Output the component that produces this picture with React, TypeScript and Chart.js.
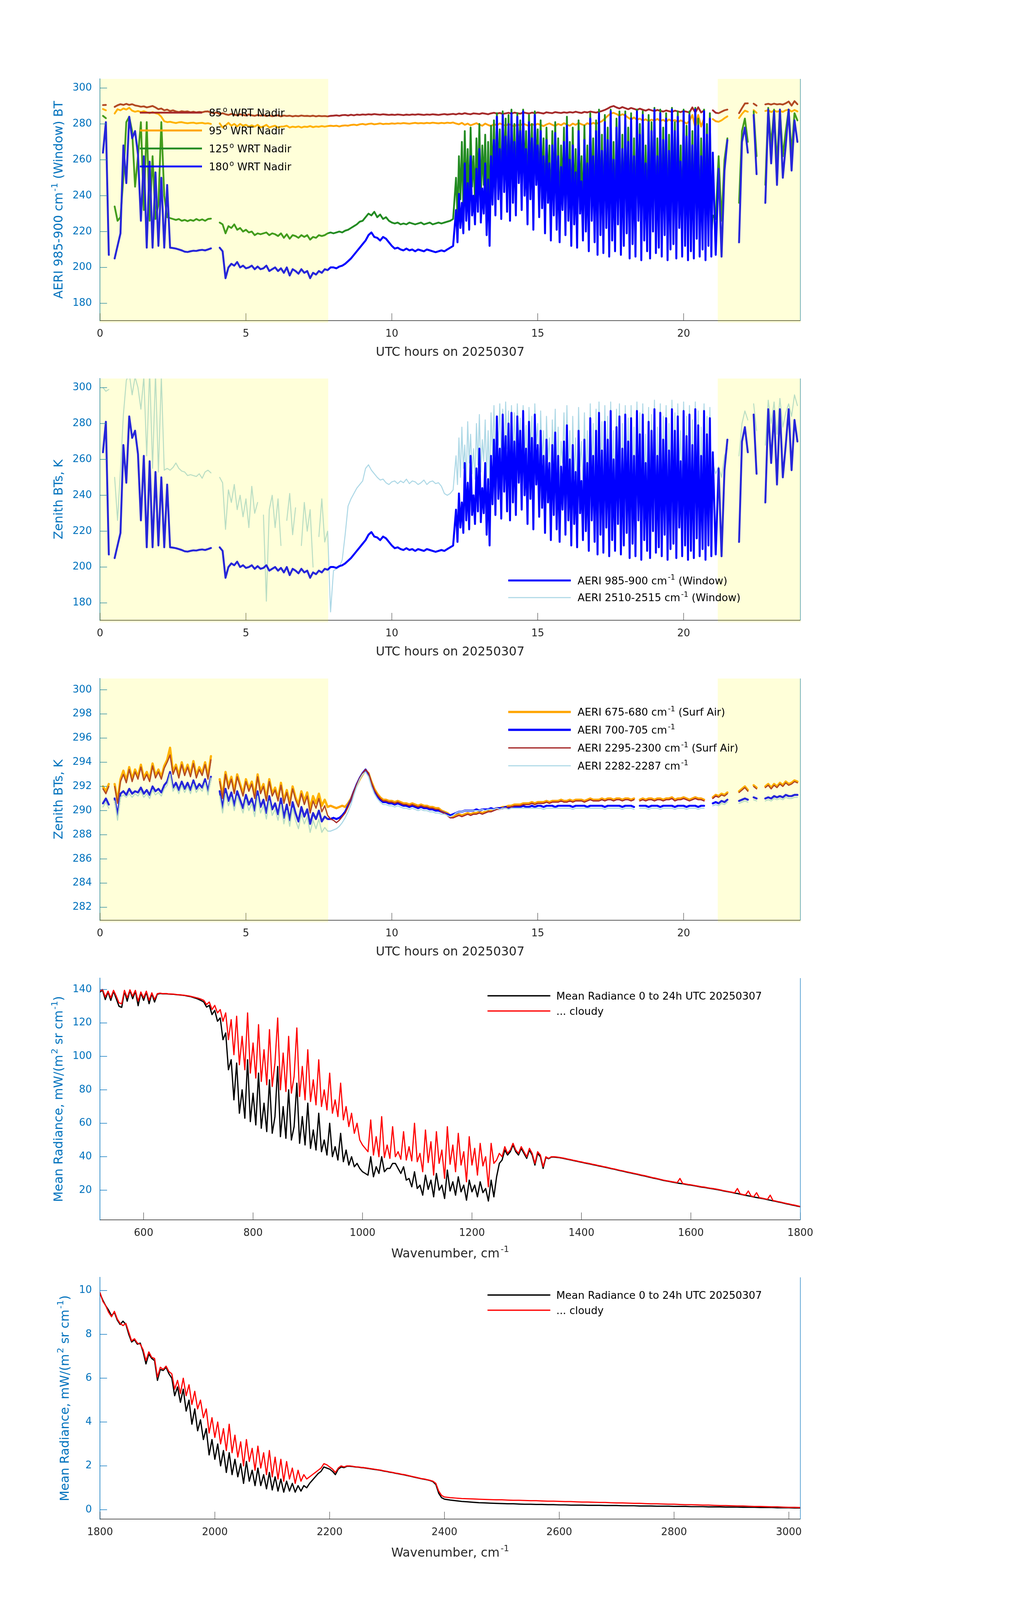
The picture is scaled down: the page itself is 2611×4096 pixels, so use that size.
import React, { useEffect, useRef } from 'react';
import { Chart, registerables } from 'chart.js';

Chart.register(...registerables);

// ---------------- DATA ----------------
// Time series: hourly axis (UTC hours on 20250307)
const HOUR_START = 0;
const HOUR_STEP = 0.1;
// dense cloudy segment for the window channels
const CLOUD_START = 12.2;
const CLOUD_STEP = 0.05;
const LATE_START = 21.1;

const X_TICKS_HOURS = [0, 5, 10, 15, 20];
const Y_TICKS_BT = [180, 200, 220, 240, 260, 280, 300];
const Y_TICKS_SFC = [282, 284, 286, 288, 290, 292, 294, 296, 298, 300];
const X_TICKS_WN_LW = [600, 800, 1000, 1200, 1400, 1600, 1800];
const Y_TICKS_RAD_LW = [20, 40, 60, 80, 100, 120, 140];
const X_TICKS_WN_SW = [1800, 2000, 2200, 2400, 2600, 2800, 3000];
const Y_TICKS_RAD_SW = [0, 2, 4, 6, 8, 10];

const NADIR_85 = [
  null, 290.5, 290.6, null, null, 289.5, 290.4, 291, 290.6, 291.2,
  290.6, 291, 290.3, 290, 289.6, 289.8, 289.2, 289.6, 290, 289.2,
  288.2, 288.6, 287.6, 288, 287.2, 287.6, 287, 286.6, 287.1, 286.8,
  287, 286.5, 286.8, 286.4, 286.7, 286.5, 286.9, 287, 286.3, 286,
  286.4, 285.5, 286, 285.4, 285, 285.6, 285.2, 284.8, 285.4, 285,
  284.7, 285.3, 284.8, 284.5, 285, 284.6, 284.9, 284.4, 284.8, 284.3,
  284.6, 284.8, 284.2, 284.7, 284.4, 284.6, 284.2, 284.5, 284.3, 284.7,
  284.4, 284.5, 284.3, 284.6, 284.2, 284.5, 284.3, 284.4, 284.2, 284.5,
  284.6, 284.8, 284.5, 284.9, 285, 284.7, 285.1, 284.8, 285.2, 285,
  285.3, 285.1, 285.4, 285.2, 285.5, 285.3, 285.1, 285.4, 285.2, 285,
  285.2, 285, 285.3, 285.1, 284.9, 285.2, 285, 285.3, 285.1, 285.4,
  285.2, 285, 285.3, 285.1, 285.4, 285.2, 285, 285.3, 285.5, 285.2,
  285.4, 285.6, 285.3, 285.8, 285.5, 286, 285.6, 285.4, 285.9, 285.7,
  285.5, 286, 285.7, 285.4, 285.9, 286.2, 285.8, 286.1, 285.6, 285.9,
  286.2, 285.8, 286.3, 286, 285.7, 286.4, 286.1, 285.8, 286.3, 286,
  286.4, 286.1, 285.8, 286.5, 286.2, 286, 286.6, 286.3, 286.1, 286.5,
  286.2, 286.6, 286.3, 286.8, 286.4, 286.1, 286.7, 286.4, 286.9, 286.6,
  286.3, 286.8, 287.2, 287.8, 288.6, 289.5, 290, 289.2, 288.6, 289.4,
  288.8, 288.2, 288.9, 288.4, 287.8, 288.5, 287.9, 287.4, 288.1, 287.6,
  287.1, 287.8, 287.3, 286.9, 287.5, 287.1, 286.7, 287.4, 287, 286.6,
  287.2, 286.8, 286.4, 289.2, 286.3, 289.3, 286.4, 287.5, null, null,
  287.6, 286.2, 286, 286.8, 287.6, 288, null, null, null, 286,
  288.8, 291.4, 291.5, null, 291.3, 290.2, null, null, 290.9, 291.2,
  290.8, 291.3, 290.9, 291.1, 290.8, 291.5, 292.5, 290.2, 292.7, 291,
];

const NADIR_95 = [
  null, 288.3, 287.6, null, null, 285.8, 288.2, 287.6, 288.6, 288,
  289, 287.4, 286.8, 287.2, 286.6, 287.1, 286.5, 286, 286.6, 286,
  285.6, 284, 281.5, 281, 281.2, 280.8, 280.5, 280.9, 281, 280.6,
  280.4, 280.6, 280.7, 280.3, 280.5, 280.6, 280.2, 280.4, 280, null,
  null, 280.3, 278, 279.2, 280.6, 279, 280, 278.6, 280, 279,
  279.5, 278.5, 279.2, 278.5, 279.5, 278.1, 278.6, 279.5, 278, 278.6,
  279, 278, 278.5, 278.6, 279, 278, 278.5, 278.2, 278.6, 278,
  278.5, 278.3, 278.8, 278.2, 278.6, 278.4, 278.8, 278.5, 278.8, 279,
  278.8, 279, 278.6, 279, 279.2, 279, 279.4, 279.6, 279.3, 279.8,
  280, 279.6, 280, 280.2, 279.8, 280, 280.3, 279.9, 280.1, 280,
  280.3, 280.1, 280.4, 280.2, 280.5, 280.3, 280.1, 280.4, 280.6, 280.3,
  280.5, 280.3, 280.6, 280.4, 280.7, 280.5, 280.3, 280.6, 280.4, 280.7,
  280.5, 280.8, 280.2, 279.8, 280.6, 279.5, 280.2, 279.2, 279.8, 280.4,
  279.6, 279, 280.2, 279.4, 278.8, 279.9, 279.2, 280.3, 279.6, 279,
  280, 279.3, 278.7, 279.8, 279.1, 280.2, 279.5, 278.9, 279.9, 279.3,
  280.1, 279.4, 278.8, 279.7, 280.3, 279.5, 278.9, 280, 279.3, 280.4,
  279.6, 279, 280.2, 279.5, 280.5, 279.8, 279.2, 280.4, 279.7, 280.6,
  280, 280.8, 281.5, 283, 284.5, 285.8, 286.2, 285.5, 284.6, 285.4,
  284.8, 283.5, 282.5, 283.6, 282.3, 283, 281.8, 282.6, 281.5, 282.4,
  281.7, 282.8, 281.6, 282.3, 281.2, 282.5, 281.5, 282.2, 281, 282,
  281.3, 280.2, 281.6, 285, 278, 285, 278.5, 283, null, null,
  282.7, 281.5, 281.2, 282, 283.2, 284.2, null, null, null, 283.3,
  285.6, 287.4, 286.8, null, 287.7, 286.2, null, null, 287.2, 287.7,
  286.6, 287.5, 286.8, 287.3, 286.7, 287.6, 288, 286.9, 287.8, 287,
];

// 125 deg: 0-12.1 h every 0.1 h, 12.2-21.0 h every 0.05 h, 21.1-23.9 h every 0.1 h
const NADIR_125_A = [
  null, 284.5, 283.2, null, null, 234, 226, 228, 250, 281,
  284, 276, 245, 262, 281, 232, 281, 226, 262, 227,
  235, 281, 240, 228, 227.5, 227, 226.5, 227, 226, 226.5,
  225.8, 226.5, 226, 227, 226.2, 226.8, 226, 227, 227.2, null,
  null, 225, 224, 219, 223, 222, 224, 221, 222, 220,
  221, 219.5, 220, 218, 219, 218.5, 219, 219.5, 218, 219,
  218.5, 217.5, 219, 216.5, 218.5, 216, 218, 217.5, 216.5, 218,
  217, 218, 215.5, 217, 216.5, 218, 217.5, 218, 219, 219.5,
  219, 219.5, 220, 219.5, 220.5, 221, 222, 223, 224, 225.5,
  226, 228, 230, 229, 231, 228, 229.5, 227, 228, 226,
  225, 224.5, 225, 224, 224.5, 224, 225, 224.5, 224, 224.5,
  225, 224, 224.5, 225, 224, 224.5, 225, 224.5, 225, 225.5,
  226, 227,
];
const NADIR_125_B = [
  250, 228, 262, 238, 270, 232, 276, 240, 266, 234, 278, 245, 262, 236, 272, 244, 280, 238, 268, 246,
  274, 232, 270, 228, 279, 246, 282, 240, 286, 250, 277, 238, 287, 252, 283, 242, 285, 236, 288, 248,
  280, 240, 286, 256, 282, 242, 288, 250, 276, 234, 285, 248, 280, 232, 287, 254, 277, 238, 282, 244,
  272, 230, 278, 246, 268, 226, 276, 240, 281, 232, 272, 226, 268, 242, 278, 230, 284, 236, 270, 224,
  278, 234, 266, 222, 282, 240, 262, 226, 279, 230, 268, 221, 286, 236, 272, 225, 282, 219, 288, 228,
  274, 220, 285, 232, 278, 218, 288, 226, 270, 220, 283, 234, 287, 219, 274, 223, 287, 229, 278, 217,
  286, 224, 272, 218, 288, 236, 280, 216, 287, 226, 268, 220, 285, 217, 281, 231, 289, 219, 272, 222,
  288, 218, 278, 229, 286, 216, 274, 221, 289, 224, 281, 217, 287, 233, 268, 218, 288, 223, 279, 216,
  287, 220, 276, 217, 289, 227, 283, 218, 272, 221, 288, 216, 280, 223, 286, 218,
  229,
];
const NADIR_125_C = [
  227, 262, 226, 260, 272, null, null, null, 236, 276, 283, 270, null, 287, 262,
  null, null, 246, 289, 268, 288, 258, 288, 262, 276, 288, 264, 286, 282,
];

// 180 deg (zenith) window BT, 985-900 cm-1, same record in panels 1 and 2
const WIN_985_900_A = [
  null, 264, 281, 207, null, 205, 212, 219, 268, 247,
  284, 272, 276, 263, 226, 262, 211, 259, 211, 253,
  212, 250, 211, 246, 211, 210.8, 210.5, 210, 209.5, 208.8,
  208.6, 209, 209.3, 209.2, 209.6, 209.8, 209.5, 210, 210.6, null,
  null, 211, 209, 194, 200, 202, 201, 203, 200, 201,
  199.5, 200, 201, 199, 200.5, 199, 199.5, 201, 198, 199,
  200, 198, 199.5, 197, 200, 195.5, 199, 198, 196.5, 199,
  197, 198, 194, 197, 196, 198, 197, 199, 198.5, 200,
  200, 199.5, 200.5, 201, 202, 203.5, 205, 207, 209, 211,
  213, 215, 218, 219.5, 217, 216.5, 215, 217, 216, 214,
  212, 210.5, 211, 210, 209.5, 210.5, 209.5, 210, 209, 210,
  209.5, 209, 210, 209.5, 209, 208.5, 209, 209.5, 209, 210,
  211, 212,
];
const WIN_985_900_B = [
  232, 214, 241, 222, 236, 219, 258, 226, 247, 221, 262, 229, 240, 224, 255, 231, 266, 225, 244, 230,
  258, 218, 249, 212, 262, 235, 271, 229, 284, 238, 266, 227, 285, 242, 273, 231, 280, 226, 286, 236,
  270, 229, 284, 247, 276, 232, 287, 240, 266, 224, 281, 238, 272, 221, 285, 246, 268, 228, 276, 233,
  262, 219, 271, 236, 258, 215, 268, 229, 275, 221, 262, 214, 256, 232, 270, 218, 279, 226, 260, 212,
  268, 224, 253, 211, 276, 230, 248, 215, 271, 220, 258, 209, 283, 226, 262, 214, 276, 207, 286, 218,
  265, 208, 281, 222, 271, 206, 287, 215, 260, 209, 278, 224, 284, 207, 266, 212, 285, 219, 270, 205,
  283, 213, 262, 206, 287, 226, 274, 204, 285, 215, 258, 209, 281, 205, 276, 220, 288, 208, 262, 211,
  286, 206, 271, 218, 283, 204, 265, 210, 288, 213, 276, 205, 284, 222, 259, 206, 287, 212, 273, 204,
  285, 209, 268, 205, 288, 216, 279, 206, 262, 210, 287, 204, 274, 212, 283, 206,
  264,
];
const WIN_985_900_C = [
  207, 255, 206, 254, 271, null, null, null, 214, 270, 278, 264, null, 285, 252,
  null, null, 236, 288, 258, 287, 246, 288, 250, 268, 288, 254, 282, 270,
];

// 2510-2515 cm-1 window BT
const WIN_2510_2515_A = [
  null, 300, 298, 299, null, 250, 226, 254, 285, 304,
  308, 296, 306, 300, 288, 306, 262, 310, 255, 308,
  253, 306, 254, 255, 254, 255.5, 258, 255, 253.5, 253,
  251, 251.5, 251, 250.5, 252, 249.5, 253, 254, 252.5, null,
  null, 250, 247, 221, 243, 236, 246, 232, 240, 228,
  238, 222, 245, 230, 236, null, 229, 181, 232, 240,
  222, 238, 212, null, 226, 241, 218, 233, null, 212,
  236, 220, 232, 200, null, 217, 238, 214, 220, 175,
  198, 199, 200, 204, 218, 234, 238, 241, 244, 246,
  248, 255, 257, 254, 252, 250, 248.5, 249, 247, 246,
  247.5, 248, 246.5, 248, 247, 249, 246.5, 248, 247.5, 246,
  247, 248.5, 246, 247.5, 248, 246.5, 247, 245, 241, 240,
  241, 243,
];
const WIN_2510_2515_B = [
  262, 246, 272, 250, 278, 255, 268, 248, 281, 258, 274, 252, 266, 249, 280, 257, 285, 253, 271, 259,
  282, 250, 276, 246, 286, 262, 290, 256, 284, 268, 291, 260, 288, 254, 292, 266, 287, 252, 290, 262,
  286, 255, 291, 270, 283, 252, 290, 262, 279, 248, 289, 266, 284, 250, 291, 268, 280, 246, 287, 259,
  276, 243, 284, 260, 272, 240, 282, 256, 288, 246, 278, 240, 270, 258, 286, 244, 290, 252, 276, 240,
  284, 250, 272, 238, 289, 256, 270, 242, 286, 248, 276, 236, 291, 254, 280, 242, 288, 236, 292, 248,
  281, 236, 290, 250, 284, 234, 292, 244, 276, 238, 288, 252, 291, 236, 280, 242, 290, 248, 283, 234,
  290, 244, 278, 236, 292, 252, 286, 234, 291, 246, 274, 238, 289, 235, 285, 250, 293, 238, 278, 242,
  291, 236, 284, 248, 290, 234, 280, 242, 293, 244, 286, 236, 291, 254, 276, 238, 292, 244, 284, 235,
  290, 240, 282, 236, 292, 248, 287, 238, 278, 242, 291, 236, 284, 245, 289, 240,
  258,
];
const WIN_2510_2515_C = [
  252, 256, 250, 262, 266, null, null, null, 262, 280, 287, 282, null, 291, 276,
  null, null, 268, 293, 280, 292, 274, 294, 278, 286, 291, 284, 296, 290,
];

const SFC_675_680 = [
  null, 292, 291.6, 292.2, null, 292.2, 290.8, 292.6, 293.3, 292.5,
  293.6, 292.6, 293.4, 292.8, 293.8, 292.7, 293.2, 292.6, 293.9, 292.9,
  293.4, 292.8, 293.7, 294.2, 295.2, 293.2, 293.8, 292.9, 294, 293.1,
  293.8, 293, 294.1, 292.9, 293.6, 293.1, 294, 292.8, 294.5, null,
  null, 292.6, 291.2, 293.2, 292, 292.8, 291.6, 293, 292.2, 291.4,
  292.6, 291.8, 292.4, 291.2, 293, 291.6, 292.2, 291, 292.6, 291.4,
  291.9, 291, 292.3, 290.8, 291.7, 290.6, 292, 291.1, 290.5, 291.6,
  290.8, 291.5, 290.2, 291.2, 290.6, 291.4, 290.4, 290.9, 290.3, 290.4,
  290.3, 290.2, 290.3, 290.4, 290.3, 290.6, 291, 291.6, 292.1, 292.6,
  293, 293.3, 293.1, 292.4, 291.8, 291.4, 291.1, 290.9, 290.9, 290.8,
  290.8, 290.7, 290.8, 290.7, 290.6, 290.6, 290.5, 290.6, 290.5, 290.4,
  290.5, 290.4, 290.4, 290.3, 290.3, 290.2, 290.2, 290, 289.9, 289.8,
  289.6, 289.5, 289.6, 289.7, 289.6, 289.7, 289.8, 289.7, 289.8, 289.8,
  289.9, 289.8, 289.9, 290, 290, 290.1, 290.2, 290.2, 290.3, 290.3,
  290.4, 290.4, 290.5, 290.5, 290.5, 290.6, 290.6, 290.6, 290.7, 290.6,
  290.7, 290.7, 290.7, 290.8, 290.7, 290.8, 290.8, 290.8, 290.9, 290.8,
  290.8, 290.9, 290.8, 290.9, 290.9, 290.9, 290.8, 290.9, 291, 290.9,
  290.9, 290.9, 291, 290.9, 291, 291, 290.9, 291, 291, 290.9,
  291, 291, 290.9, 291, null, 290.9, 291, 290.9, 291, 291,
  290.9, 291, 291, 290.9, 291, 291, 291.1, 290.9, 291, 291,
  291.1, 291, 290.9, 291, 291.1, 291, 291, 290.9, null, null,
  291.1, 291.3, 291.2, 291.4, 291.3, 291.5, null, null, null, 291.6,
  291.8, 292, 291.7, null, 292.1, 291.9, null, null, 292, 292.2,
  291.9, 292.2, 292, 292.3, 292.1, 292.4, 292.2, 292.3, 292.5, 292.4,
];

const SFC_700_705 = [
  null, 290.6, 291, 290.5, null, 291, 289.6, 291.4, 291.6, 291.3,
  291.8, 291.4, 291.6, 291.5, 291.9, 291.4, 291.7, 291.3, 292, 291.6,
  291.8, 291.5, 292.1, 292.4, 293.2, 291.9, 292.3, 291.7, 292.4, 291.8,
  292.3, 291.7, 292.5, 291.8, 292.2, 291.9, 292.6, 291.6, 292.8, null,
  null, 291.6, 290.2, 291.8, 290.8, 291.5, 290.4, 291.6, 290.9, 290.2,
  291.3, 290.5, 291, 290, 291.6, 290.3, 290.9, 289.8, 291.2, 290.1,
  290.6, 289.7, 291, 289.4, 290.5, 289.2, 290.7, 289.8, 289.1, 290.3,
  289.5, 290.1, 288.9, 289.8, 289.3, 290, 289.1, 289.5, 289.3, 289.3,
  289.4, 289.3, 289.4, 289.6, 289.9, 290.4, 290.9, 291.6, 292.2, 292.7,
  293.1, 293.4, 293, 292.2, 291.6, 291.2, 290.9, 290.7, 290.7, 290.6,
  290.6, 290.5, 290.6, 290.5, 290.4, 290.4, 290.3, 290.4, 290.3, 290.2,
  290.3, 290.2, 290.2, 290.1, 290.1, 290, 290, 289.9, 289.8, 289.7,
  289.6, 289.7, 289.8, 289.9, 289.9, 290, 290, 290, 290, 290.1,
  290, 290.1, 290.1, 290.1, 290.2, 290.1, 290.2, 290.2, 290.2, 290.3,
  290.2, 290.3, 290.3, 290.3, 290.3, 290.4, 290.3, 290.3, 290.4, 290.3,
  290.4, 290.4, 290.3, 290.4, 290.4, 290.4, 290.3, 290.4, 290.4, 290.4,
  290.4, 290.4, 290.3, 290.4, 290.4, 290.4, 290.4, 290.3, 290.4, 290.4,
  290.4, 290.4, 290.4, 290.3, 290.4, 290.4, 290.4, 290.4, 290.4, 290.3,
  290.4, 290.4, 290.4, 290.3, null, 290.4, 290.4, 290.4, 290.3, 290.4,
  290.4, 290.4, 290.3, 290.4, 290.4, 290.4, 290.4, 290.3, 290.4, 290.4,
  290.4, 290.3, 290.4, 290.4, 290.4, 290.3, 290.4, 290.4, null, null,
  290.6, 290.7, 290.6, 290.8, 290.7, 290.9, null, null, null, 290.8,
  290.9, 291, 290.9, null, 291.1, 291, null, null, 291, 291.1,
  291, 291.2, 291.1, 291.2, 291.1, 291.3, 291.2, 291.2, 291.3, 291.3,
];

const SFC_2295_2300 = [
  null, 291.8, 291.4, 292, null, 292, 290.6, 292.4, 293, 292.3,
  293.4, 292.4, 293.2, 292.6, 293.6, 292.5, 293, 292.4, 293.7, 292.7,
  293.2, 292.6, 293.5, 294, 294.6, 293, 293.6, 292.7, 293.8, 292.9,
  293.6, 292.8, 293.9, 292.7, 293.4, 292.9, 293.8, 292.6, 294.2, null,
  null, 292.4, 291, 293, 291.8, 292.6, 291.4, 292.8, 292, 291.2,
  292.4, 291.6, 292.2, 291, 292.8, 291.4, 292, 290.8, 292.4, 291.2,
  291.7, 290.8, 292.1, 290.6, 291.5, 290.4, 291.8, 290.9, 290.3, 291.4,
  290.5, 291.2, 289.8, 290.8, 290.2, 291, 289.9, 290.4, 289.6, 289.3,
  289.2, 289, 289.2, 289.5, 289.8, 290.3, 290.9, 291.6, 292.2, 292.7,
  293.1, 293.4, 293.1, 292.3, 291.7, 291.3, 291, 290.8, 290.8, 290.7,
  290.7, 290.6, 290.7, 290.6, 290.5, 290.5, 290.4, 290.5, 290.4, 290.3,
  290.4, 290.3, 290.3, 290.2, 290.2, 290.1, 290.1, 289.9, 289.8, 289.6,
  289.4, 289.4, 289.5, 289.6, 289.5, 289.6, 289.7, 289.6, 289.7, 289.7,
  289.8, 289.7, 289.8, 289.9, 289.9, 290, 290.1, 290.1, 290.2, 290.2,
  290.3, 290.3, 290.4, 290.4, 290.4, 290.5, 290.5, 290.5, 290.6, 290.5,
  290.6, 290.6, 290.6, 290.7, 290.6, 290.7, 290.7, 290.7, 290.8, 290.7,
  290.7, 290.8, 290.7, 290.8, 290.8, 290.8, 290.7, 290.8, 290.9, 290.8,
  290.8, 290.8, 290.9, 290.8, 290.9, 290.9, 290.8, 290.9, 290.9, 290.8,
  290.9, 290.9, 290.8, 290.9, null, 290.8, 290.9, 290.8, 290.9, 290.9,
  290.8, 290.9, 290.9, 290.8, 290.9, 290.9, 291, 290.8, 290.9, 290.9,
  291, 290.9, 290.8, 290.9, 291, 290.9, 290.9, 290.8, null, null,
  291, 291.2, 291.1, 291.3, 291.2, 291.4, null, null, null, 291.5,
  291.7, 291.9, 291.6, null, 292, 291.8, null, null, 291.9, 292.1,
  291.8, 292.1, 291.9, 292.2, 292, 292.3, 292.1, 292.2, 292.4, 292.3,
];

const SFC_2282_2287 = [
  null, 290.3, 290.7, 290.2, null, 290.8, 289.2, 291.1, 291.3, 291.1,
  291.4, 291.1, 291.4, 291.2, 291.6, 291.1, 291.4, 291, 291.7, 291.3,
  291.5, 291.2, 291.8, 292.1, 293, 291.6, 292, 291.4, 292.1, 291.5,
  292, 291.4, 292.2, 291.5, 291.9, 291.6, 292.3, 291.3, 292.7, null,
  null, 291.2, 289.8, 291.4, 290.4, 291.1, 290, 291.2, 290.5, 289.8,
  290.9, 290, 290.6, 289.5, 291.2, 289.8, 290.4, 289.3, 290.8, 289.6,
  290.1, 289.2, 290.5, 288.9, 290, 288.7, 290.2, 289.2, 288.5, 289.7,
  288.9, 289.5, 288.2, 289.2, 288.5, 289.3, 288.2, 288.6, 288.3, 288.3,
  288.4, 288.5, 288.7, 289, 289.4, 289.9, 290.5, 291.3, 292, 292.6,
  293, 293.2, 292.8, 292, 291.4, 291, 290.7, 290.5, 290.5, 290.4,
  290.4, 290.3, 290.4, 290.3, 290.2, 290.2, 290.1, 290.2, 290.1, 290,
  290.1, 290, 290, 289.9, 289.9, 289.8, 289.8, 289.7, 289.7, 289.6,
  289.5, 289.6, 289.8, 289.9, 289.9, 290, 290, 290, 290, 290,
  290, 290.1, 290, 290.1, 290.1, 290.1, 290.2, 290.1, 290.2, 290.2,
  290.1, 290.2, 290.2, 290.2, 290.2, 290.2, 290.2, 290.2, 290.2, 290.2,
  290.2, 290.2, 290.1, 290.2, 290.2, 290.2, 290.2, 290.2, 290.2, 290.2,
  290.2, 290.2, 290.1, 290.2, 290.2, 290.2, 290.2, 290.2, 290.2, 290.2,
  290.2, 290.2, 290.2, 290.1, 290.2, 290.2, 290.2, 290.2, 290.2, 290.1,
  290.2, 290.2, 290.2, 290.1, null, 290.2, 290.2, 290.2, 290.1, 290.2,
  290.2, 290.2, 290.1, 290.2, 290.2, 290.2, 290.2, 290.1, 290.2, 290.2,
  290.2, 290.1, 290.2, 290.2, 290.2, 290.1, 290.2, 290.2, null, null,
  290.4, 290.5, 290.4, 290.6, 290.5, 290.7, null, null, null, 290.6,
  290.7, 290.8, 290.7, null, 290.9, 290.8, null, null, 290.8, 290.9,
  290.8, 291, 290.9, 291, 290.9, 291.1, 291, 291, 291.1, 291.1,
];

// Spectra: 520-1800 cm-1 every 5 cm-1
const WN4_START = 520;
const WN4_STEP = 5;
const RAD_CLOUDY_LW = [
  139, 140, 135.5, 139, 135, 139.5, 136, 132, 131.5, 139.5, 135, 139.8, 136, 139.5, 133, 138.5, 135, 139, 133.5, 138,
  134, 137.5, 137.8, 137.5, 137.6, 137.4, 137.3, 137.2, 137, 136.9, 136.7, 136.5, 136.3, 136, 135.6, 135.2, 134.8, 134.2, 133.5, 131,
  132.5, 128, 130.5, 126, 128, 121, 126, 110, 122, 101, 124, 95, 112, 92, 126, 90, 108, 87, 119, 85,
  104, 83, 116, 82, 96, 123, 80, 102, 79, 112, 78, 88, 117, 76, 94, 74, 104, 73, 86, 71,
  98, 70, 80, 68, 90, 66, 74, 64, 84, 62, 70, 58, 66, 54, 60, 50, 47, 45, 43, 62,
  41, 52, 40, 64, 39.5, 47, 39, 58, 40, 43, 38.5, 55, 38, 46, 37.5, 60, 37, 42, 31, 56,
  36.5, 49, 29, 55, 36, 44, 27, 58, 35.5, 47, 31, 54, 35, 43, 25, 52, 35, 45, 29, 48,
  34.5, 40, 22, 48, 36, 38, 42, 40, 46, 42, 44, 48, 44, 42, 46, 43, 40, 45, 42, 36,
  43, 41, 34, 40, 39, 40, 40, 39.8, 39.6, 39.3, 39, 38.6, 38.3, 37.9, 37.6, 37.2, 36.9, 36.5, 36.2, 35.9,
  35.5, 35.2, 34.8, 34.5, 34.1, 33.8, 33.4, 33, 32.7, 32.3, 31.9, 31.6, 31.2, 30.8, 30.5, 30.1, 29.8, 29.4, 29, 28.7,
  28.3, 27.9, 27.5, 27.2, 26.8, 26.4, 26, 25.7, 25.4, 25.1, 24.8, 24.5, 27, 24, 23.7, 23.4, 23.2, 22.9, 22.6, 22.3,
  22, 21.8, 21.5, 21.2, 21, 20.7, 20.4, 20.1, 19.7, 19.4, 19.1, 18.8, 18.4, 21, 17.8, 17.4, 17.1, 19.5, 16.5, 16.1,
  18.5, 15.5, 15.2, 14.9, 14.5, 17, 13.8, 13.5, 13.1, 12.8, 12.4, 12, 11.7, 11.3, 11, 10.6, 10.2,
];
const RAD_MEAN_LW = [
  138.5, 139.5, 134, 138.5, 133.5, 139, 134.5, 130, 129.3, 139, 133, 139.5, 134.5, 139, 130.3, 138, 133.5, 138.5, 131.5, 137.5,
  132.5, 137.2, 137.6, 137.4, 137.5, 137.3, 137.2, 137.1, 136.9, 136.8, 136.6, 136.4, 136.1, 135.8, 135.3, 134.8, 134.2, 133.4, 132.5, 129.5,
  130.5, 125, 127.5, 121, 123, 110, 114, 92, 98, 74, 96, 66, 80, 63, 98, 61, 78, 59, 90, 57,
  72, 55, 86, 54, 64, 94, 52, 70, 51, 80, 50, 58, 84, 48, 64, 47, 72, 45, 56, 44,
  66, 43, 50, 41, 60, 40, 46, 38, 54, 37, 44, 35, 40, 34, 36, 33, 31, 30, 29, 40,
  28, 34, 30, 40, 31, 33, 33, 36, 36, 33, 30, 34, 26, 27, 22, 31, 21, 23, 17, 29,
  20.5, 26, 16, 30, 20, 23, 15, 32, 19.5, 25, 17, 28, 19, 23, 14, 26, 19, 23, 16, 25,
  18.5, 21, 13.5, 26, 16, 28, 36, 38, 44, 41, 43, 47, 43, 41, 45, 42, 39, 44, 41, 35,
  42, 40, 33, 39.5, 38.8, 39.8, 39.8, 39.6, 39.4, 39.1, 38.8, 38.4, 38.1, 37.7, 37.4, 37, 36.7, 36.3, 36, 35.7,
  35.3, 35, 34.6, 34.3, 33.9, 33.6, 33.2, 32.8, 32.5, 32.1, 31.7, 31.4, 31, 30.6, 30.3, 29.9, 29.6, 29.2, 28.8, 28.5,
  28.1, 27.7, 27.3, 27, 26.6, 26.2, 25.8, 25.5, 25.2, 24.9, 24.6, 24.3, 24, 23.8, 23.5, 23.2, 23, 22.7, 22.4, 22.1,
  21.8, 21.6, 21.3, 21, 20.8, 20.5, 20.2, 19.9, 19.5, 19.2, 18.9, 18.6, 18.2, 18, 17.6, 17.2, 16.9, 16.6, 16.3, 15.9,
  15.6, 15.3, 15, 14.7, 14.3, 14, 13.6, 13.3, 12.9, 12.6, 12.2, 11.8, 11.5, 11.1, 10.8, 10.4, 10.1,
];

// Spectra: 1800-2400 cm-1 every 5 cm-1, then 2410-3020 cm-1 every 10 cm-1
const WN5A_START = 1800;
const WN5A_STEP = 5;
const WN5B_START = 2410;
const WN5B_STEP = 10;
const RAD_CLOUDY_SW_A = [
  9.9, 9.5, 9.3, 9.0, 8.8, 9.05, 8.7, 8.5, 8.4, 8.5, 8.1, 7.7, 7.8, 7.6, 7.55, 7.3, 6.8, 7.2, 6.95, 6.9,
  6.05, 6.5, 6.4, 6.55, 6.3, 6.2, 5.5, 5.9, 5.3, 6.0, 5.2, 5.7, 4.8, 5.4, 4.6, 5.0, 4.2, 4.6, 3.5, 4.2,
  3.3, 4.0, 3.0, 3.7, 2.7, 3.9, 2.6, 3.4, 2.4, 3.1, 2.0, 3.2, 2.2, 2.8, 1.8, 2.9, 1.9, 2.6, 1.6, 2.7,
  1.5, 2.4, 1.4, 2.3, 1.3, 2.2, 1.4, 1.9, 1.2, 1.8, 1.3, 1.6, 1.4, 1.5, 1.6, 1.7, 1.8, 1.9, 2.1, 2.05,
  1.95, 1.85, 1.7, 1.9, 2.0, 1.95, 2.0, 2.0, 1.98, 1.96, 1.95, 1.93, 1.92, 1.9, 1.88, 1.86, 1.84, 1.82, 1.8, 1.77,
  1.75, 1.72, 1.7, 1.67, 1.65, 1.62, 1.6, 1.57, 1.54, 1.51, 1.48, 1.45, 1.42, 1.4, 1.37, 1.34, 1.3, 1.2, 0.85, 0.65,
  0.58,
];
const RAD_CLOUDY_SW_B = [
  0.55, 0.53, 0.51, 0.5, 0.49, 0.48, 0.47, 0.46, 0.45, 0.45,
  0.44, 0.43, 0.43, 0.42, 0.41, 0.41, 0.4, 0.39, 0.39, 0.38,
  0.37, 0.37, 0.36, 0.35, 0.35, 0.34, 0.33, 0.33, 0.32, 0.31,
  0.31, 0.3, 0.29, 0.29, 0.28, 0.27, 0.27, 0.26, 0.25, 0.25,
  0.24, 0.23, 0.23, 0.22, 0.21, 0.21, 0.2, 0.19, 0.19, 0.18,
  0.17, 0.17, 0.16, 0.15, 0.15, 0.14, 0.13, 0.13, 0.12, 0.11,
  0.11, 0.1,
];
const RAD_MEAN_SW_A = [
  9.85, 9.55, 9.3, 9.1, 8.85, 9.0, 8.65, 8.45, 8.6, 8.45, 8.0, 7.65, 7.75, 7.55, 7.6, 7.2, 6.65, 7.1, 6.9, 6.8,
  5.9, 6.4, 6.35, 6.5, 6.2, 6.0, 5.2, 5.6, 4.9, 5.5, 4.5, 5.0, 3.9, 4.6, 3.6, 4.1, 3.2, 3.7, 2.5, 3.2,
  2.3, 3.0, 2.0, 2.7, 1.7, 2.6, 1.6, 2.3, 1.5, 2.1, 1.2, 2.2, 1.3, 1.8, 1.1, 1.9, 1.1, 1.6, 0.95, 1.7,
  0.9, 1.5, 0.85, 1.4, 0.8, 1.3, 0.85, 1.2, 0.8, 1.1, 0.85, 1.1, 1.0, 1.2, 1.35, 1.5, 1.65, 1.75, 1.95, 1.9,
  1.85, 1.75, 1.6, 1.85, 1.95, 1.92, 1.98, 1.98, 1.97, 1.95, 1.94, 1.92, 1.91, 1.89, 1.87, 1.85, 1.83, 1.81, 1.79, 1.76,
  1.74, 1.71, 1.69, 1.66, 1.64, 1.61, 1.59, 1.56, 1.53, 1.5, 1.47, 1.44, 1.41, 1.39, 1.36, 1.33, 1.28, 1.15, 0.75, 0.55,
  0.48,
];
const RAD_MEAN_SW_B = [
  0.44, 0.41, 0.38, 0.36, 0.34, 0.32, 0.31, 0.3, 0.29, 0.28,
  0.27, 0.27, 0.26, 0.25, 0.25, 0.24, 0.24, 0.23, 0.23, 0.22,
  0.22, 0.21, 0.21, 0.21, 0.2, 0.2, 0.2, 0.19, 0.19, 0.19,
  0.18, 0.18, 0.18, 0.17, 0.17, 0.17, 0.16, 0.16, 0.16, 0.15,
  0.15, 0.15, 0.14, 0.14, 0.14, 0.13, 0.13, 0.13, 0.12, 0.12,
  0.12, 0.11, 0.11, 0.11, 0.1, 0.1, 0.1, 0.09, 0.09, 0.09,
  0.08, 0.08,
];

// Shaded periods, hours
const SHADED_HOURS: [number, number][] = [[0, 7.82], [21.17, 24]];

// ---------------- STYLE / LAYOUT ----------------
const W = 2611;
const CANVAS_H = 767;
const PLOT_LEFT = 256.1;
const PLOT_RIGHT = 2048.7;
const PLOT_TOP = 20;
const PLOT_H = 619;
const X_AXIS_H = 60;
const FONT = '"DejaVu Sans", sans-serif';
const TICK_SIZE = 26;
const TITLE_SIZE = 31.5;
const LEG_SIZE = 26.5;
const AX_BLUE = '#0072BD';
const AX_DARK = '#262626';
const SHADE = 'rgba(255,255,0,0.15)';
const C_BROWN = '#A52A2A';
const C_ORANGE = '#FFA500';
const C_GREEN = '#228B22';
const C_BLUE = '#0000FF';
const C_LBLUE = '#ADD8E6';
const C_RED = '#FF0000';
const C_BLACK = '#000000';

type Seg = { t: string; sup?: boolean };
type Pt = { x: number; y: number | null };
interface Series { data: Pt[]; color: string; width: number }
interface LegendItem { label: Seg[]; color: string; width: number }
interface PanelSpec {
  top: number;
  series: Series[];
  xMin: number; xMax: number; xTicks: number[];
  yMin: number; yMax: number; yTicks: number[];
  yTitle: Seg[]; yTitleX: number;
  xTitle: Seg[]; xTitleDy: number;
  legend: LegendItem[]; legLine: [number, number]; legText: number; legRows: number[];
  shades: [number, number][];
}

function pts(values: (number | null)[], start: number, step: number): Pt[] {
  return values.map((v, i) => ({ x: Math.round((start + i * step) * 1000) / 1000, y: v }));
}
function hourly(a: (number | null)[], b: (number | null)[], c: (number | null)[]): Pt[] {
  return pts(a, HOUR_START, HOUR_STEP).concat(pts(b, CLOUD_START, CLOUD_STEP), pts(c, LATE_START, HOUR_STEP));
}

function richWidth(ctx: CanvasRenderingContext2D, segs: Seg[], size: number) {
  let w = 0;
  for (const s of segs) {
    const fs = s.sup ? size * 0.7 : size;
    ctx.font = `${fs}px ${FONT}`;
    w += ctx.measureText(s.t).width + (s.sup ? size * 0.08 : 0);
  }
  return w;
}

function drawRich(ctx: CanvasRenderingContext2D, segs: Seg[], x: number, y: number, size: number, color: string) {
  ctx.fillStyle = color;
  ctx.textAlign = 'left';
  ctx.textBaseline = 'alphabetic';
  let cx = x;
  for (const s of segs) {
    const fs = s.sup ? size * 0.7 : size;
    ctx.font = `${fs}px ${FONT}`;
    if (s.sup) cx += size * 0.08;
    ctx.fillText(s.t, cx, s.sup ? y - size * 0.42 : y);
    cx += ctx.measureText(s.t).width;
  }
}

const UTC_TITLE: Seg[] = [{ t: 'UTC hours on 20250307' }];
const WN_TITLE: Seg[] = [{ t: 'Wavenumber, cm' }, { t: '-1', sup: true }];
const ZEN_TITLE: Seg[] = [{ t: 'Zenith BTs, K' }];
const RAD_TITLE: Seg[] = [
  { t: 'Mean Radiance, mW/(m' }, { t: '2', sup: true }, { t: ' sr cm' }, { t: '-1', sup: true }, { t: ')' },
];
const RAD_LEGEND: LegendItem[] = [
  { label: [{ t: 'Mean Radiance 0 to 24h UTC 20250307' }], color: C_BLACK, width: 3.6 },
  { label: [{ t: '... cloudy' }], color: C_RED, width: 3.2 },
];

const WIN_985 = hourly(WIN_985_900_A, WIN_985_900_B, WIN_985_900_C);

const SPECS: PanelSpec[] = [
  {
    top: 182,
    series: [
      { data: WIN_985, color: C_BLUE, width: 5 },
      { data: hourly(NADIR_125_A, NADIR_125_B, NADIR_125_C), color: C_GREEN, width: 4.6 },
      { data: pts(NADIR_95, HOUR_START, HOUR_STEP), color: C_ORANGE, width: 4.6 },
      { data: pts(NADIR_85, HOUR_START, HOUR_STEP), color: C_BROWN, width: 4.6 },
    ],
    xMin: 0, xMax: 24, xTicks: X_TICKS_HOURS, yMin: 170.3, yMax: 305.1, yTicks: Y_TICKS_BT,
    yTitle: [{ t: 'AERI 985-900 cm' }, { t: '-1', sup: true }, { t: ' (Window) BT' }], yTitleX: 149,
    xTitle: UTC_TITLE, xTitleDy: 89.8,
    legend: [
      { label: [{ t: '85' }, { t: 'o', sup: true }, { t: ' WRT Nadir' }], color: C_BROWN, width: 4.8 },
      { label: [{ t: '95' }, { t: 'o', sup: true }, { t: ' WRT Nadir' }], color: C_ORANGE, width: 4.8 },
      { label: [{ t: '125' }, { t: 'o', sup: true }, { t: ' WRT Nadir' }], color: C_GREEN, width: 4.8 },
      { label: [{ t: '180' }, { t: 'o', sup: true }, { t: ' WRT Nadir' }], color: C_BLUE, width: 4.8 },
    ],
    legLine: [358, 517], legText: 534.7, legRows: [86.3, 132, 178.2, 224.1],
    shades: SHADED_HOURS,
  },
  {
    top: 949,
    series: [
      { data: WIN_985, color: C_BLUE, width: 5 },
      { data: hourly(WIN_2510_2515_A, WIN_2510_2515_B, WIN_2510_2515_C), color: C_LBLUE, width: 2.6 },
    ],
    xMin: 0, xMax: 24, xTicks: X_TICKS_HOURS, yMin: 170.3, yMax: 305.1, yTicks: Y_TICKS_BT,
    yTitle: ZEN_TITLE, yTitleX: 148.5,
    xTitle: UTC_TITLE, xTitleDy: 89.8,
    legend: [
      { label: [{ t: 'AERI 985-900 cm' }, { t: '-1', sup: true }, { t: ' (Window)' }], color: C_BLUE, width: 5 },
      { label: [{ t: 'AERI 2510-2515 cm' }, { t: '-1', sup: true }, { t: ' (Window)' }], color: C_LBLUE, width: 2.7 },
    ],
    legLine: [1301, 1461.2], legText: 1478.6, legRows: [517, 560.8],
    shades: SHADED_HOURS,
  },
  {
    top: 1717,
    series: [
      { data: pts(SFC_2282_2287, HOUR_START, HOUR_STEP), color: C_LBLUE, width: 2.9 },
      { data: pts(SFC_2295_2300, HOUR_START, HOUR_STEP), color: C_BROWN, width: 3.2 },
      { data: pts(SFC_700_705, HOUR_START, HOUR_STEP), color: C_BLUE, width: 5.2 },
      { data: pts(SFC_675_680, HOUR_START, HOUR_STEP), color: C_ORANGE, width: 5.7 },
    ],
    xMin: 0, xMax: 24, xTicks: X_TICKS_HOURS, yMin: 280.92, yMax: 300.93, yTicks: Y_TICKS_SFC,
    yTitle: ZEN_TITLE, yTitleX: 148.5,
    xTitle: UTC_TITLE, xTitleDy: 89.8,
    legend: [
      { label: [{ t: 'AERI 675-680 cm' }, { t: '-1', sup: true }, { t: ' (Surf Air)' }], color: C_ORANGE, width: 5.7 },
      { label: [{ t: 'AERI 700-705 cm' }, { t: '-1', sup: true }], color: C_BLUE, width: 5.7 },
      { label: [{ t: 'AERI 2295-2300 cm' }, { t: '-1', sup: true }, { t: ' (Surf Air)' }], color: C_BROWN, width: 3.2 },
      { label: [{ t: 'AERI 2282-2287 cm' }, { t: '-1', sup: true }], color: C_LBLUE, width: 2.9 },
    ],
    legLine: [1301, 1461.2], legText: 1478.6, legRows: [85.6, 131.3, 177.7, 223.4],
    shades: SHADED_HOURS,
  },
  {
    top: 2484,
    series: [
      { data: pts(RAD_CLOUDY_LW, WN4_START, WN4_STEP), color: C_RED, width: 3 },
      { data: pts(RAD_MEAN_LW, WN4_START, WN4_STEP), color: C_BLACK, width: 3.2 },
    ],
    xMin: 520.4, xMax: 1800, xTicks: X_TICKS_WN_LW, yMin: 2.2, yMax: 146.8, yTicks: Y_TICKS_RAD_LW,
    yTitle: RAD_TITLE, yTitleX: 148.9,
    xTitle: WN_TITLE, xTitleDy: 95.7,
    legend: RAD_LEGEND, legLine: [1247.9, 1408.7], legText: 1424, legRows: [45.2, 84.1],
    shades: [],
  },
  {
    top: 3250,
    series: [
      {
        data: pts(RAD_CLOUDY_SW_A, WN5A_START, WN5A_STEP).concat(pts(RAD_CLOUDY_SW_B, WN5B_START, WN5B_STEP)),
        color: C_RED, width: 3,
      },
      {
        data: pts(RAD_MEAN_SW_A, WN5A_START, WN5A_STEP).concat(pts(RAD_MEAN_SW_B, WN5B_START, WN5B_STEP)),
        color: C_BLACK, width: 3.2,
      },
    ],
    xMin: 1800, xMax: 3020, xTicks: X_TICKS_WN_SW, yMin: -0.43, yMax: 10.6, yTicks: Y_TICKS_RAD_SW,
    yTitle: RAD_TITLE, yTitleX: 164.2,
    xTitle: WN_TITLE, xTitleDy: 95.7,
    legend: RAD_LEGEND, legLine: [1247.9, 1408.7], legText: 1424, legRows: [45.2, 84.1],
    shades: [],
  },
];

function decorPlugin(spec: PanelSpec) {
  return {
    id: 'decor',
    afterDatasetsDraw(chart: any) {
      const ctx = chart.ctx as CanvasRenderingContext2D;
      const ca = chart.chartArea;
      const xs = chart.scales.x;
      const ys = chart.scales.y;
      ctx.save();
      ctx.lineCap = 'butt';
      // inward tick marks
      ctx.strokeStyle = AX_BLUE;
      ctx.lineWidth = 1.4;
      for (const t of ys.ticks) {
        const y = ys.getPixelForValue(t.value);
        ctx.beginPath(); ctx.moveTo(ca.left, y); ctx.lineTo(ca.left + 18, y); ctx.stroke();
      }
      ctx.strokeStyle = AX_DARK;
      ctx.lineWidth = 1;
      for (const t of xs.ticks) {
        const x = xs.getPixelForValue(t.value);
        ctx.beginPath(); ctx.moveTo(x, ca.bottom); ctx.lineTo(x, ca.bottom - 19); ctx.stroke();
      }
      // right edge
      ctx.strokeStyle = AX_BLUE;
      ctx.lineWidth = 1.2;
      ctx.beginPath(); ctx.moveTo(ca.right, ca.top); ctx.lineTo(ca.right, ca.bottom); ctx.stroke();
      // shaded periods
      ctx.fillStyle = SHADE;
      for (const [a, b] of spec.shades) {
        const x0 = xs.getPixelForValue(a) - (a <= spec.xMin ? 1.5 : 0);
        const x1 = xs.getPixelForValue(b) + (b >= spec.xMax ? 1 : 0);
        ctx.fillRect(x0, ca.top, x1 - x0, ca.bottom - ca.top + 5);
      }
      // legend
      spec.legend.forEach((item, i) => {
        const y = ca.top + spec.legRows[i];
        ctx.strokeStyle = item.color;
        ctx.lineWidth = item.width;
        ctx.beginPath(); ctx.moveTo(spec.legLine[0], y); ctx.lineTo(spec.legLine[1], y); ctx.stroke();
        drawRich(ctx, item.label, spec.legText, y + LEG_SIZE * 0.36, LEG_SIZE, '#000000');
      });
      // y title
      ctx.save();
      ctx.translate(spec.yTitleX, (ca.top + ca.bottom) / 2);
      ctx.rotate(-Math.PI / 2);
      const wy = richWidth(ctx, spec.yTitle, TITLE_SIZE);
      drawRich(ctx, spec.yTitle, -wy / 2, TITLE_SIZE * 0.36, TITLE_SIZE, AX_BLUE);
      ctx.restore();
      // x title
      const wx = richWidth(ctx, spec.xTitle, TITLE_SIZE);
      drawRich(ctx, spec.xTitle, (ca.left + ca.right) / 2 - wx / 2, ca.bottom + spec.xTitleDy, TITLE_SIZE, AX_DARK);
      ctx.restore();
    },
  };
}

function makeConfig(spec: PanelSpec): any {
  const fmt = (v: any) => String(Math.round(Number(v) * 100) / 100);
  return {
    type: 'line',
    data: {
      datasets: spec.series.map((s) => ({
        data: s.data,
        borderColor: s.color,
        backgroundColor: s.color,
        borderWidth: s.width,
        pointRadius: 0,
        fill: false,
        spanGaps: false,
        tension: 0,
        borderJoinStyle: 'round',
        borderCapStyle: 'round',
      })),
    },
    options: {
      responsive: false,
      maintainAspectRatio: false,
      animation: false,
      devicePixelRatio: 1,
      events: [],
      layout: {
        autoPadding: false,
        padding: {
          top: PLOT_TOP,
          left: 0,
          right: W - PLOT_RIGHT,
          bottom: CANVAS_H - PLOT_TOP - PLOT_H - X_AXIS_H,
        },
      },
      plugins: { legend: { display: false }, tooltip: { enabled: false }, title: { display: false } },
      scales: {
        x: {
          type: 'linear',
          position: 'bottom',
          min: spec.xMin,
          max: spec.xMax,
          grid: { display: false, drawTicks: false },
          border: { display: true, color: AX_DARK, width: 1.5 },
          ticks: {
            autoSkip: false,
            maxRotation: 0,
            padding: 18.5,
            color: AX_DARK,
            font: { family: FONT, size: TICK_SIZE },
            callback: fmt,
          },
          afterBuildTicks: (s: any) => { s.ticks = spec.xTicks.map((v) => ({ value: v })); },
          afterFit: (s: any) => {
            s.height = X_AXIS_H;
            s.paddingLeft = 0; s.paddingRight = 0; s.paddingTop = 0; s.paddingBottom = 0;
          },
        },
        y: {
          type: 'linear',
          position: 'left',
          min: spec.yMin,
          max: spec.yMax,
          grid: { display: false, drawTicks: false },
          border: { display: true, color: AX_BLUE, width: 1.5 },
          ticks: {
            autoSkip: false,
            padding: 20.8,
            color: AX_BLUE,
            font: { family: FONT, size: TICK_SIZE },
            callback: fmt,
          },
          afterBuildTicks: (s: any) => { s.ticks = spec.yTicks.map((v) => ({ value: v })); },
          afterFit: (s: any) => {
            s.width = PLOT_LEFT;
            s.paddingLeft = 0; s.paddingRight = 0; s.paddingTop = 0; s.paddingBottom = 0;
          },
        },
      },
    },
    plugins: [decorPlugin(spec)],
  };
}

function Panel({ spec }: { spec: PanelSpec }) {
  const ref = useRef<HTMLCanvasElement | null>(null);
  useEffect(() => {
    if (!ref.current) return;
    const chart = new Chart(ref.current, makeConfig(spec));
    return () => chart.destroy();
  }, [spec]);
  return (
    <canvas
      ref={ref}
      width={W}
      height={CANVAS_H}
      style={{ position: 'absolute', left: 0, top: spec.top, width: W, height: CANVAS_H, display: 'block' }}
    />
  );
}

export default function App() {
  return (
    <div
      style={{
        position: 'absolute', left: 0, top: 0, width: W, height: 4096,
        background: '#ffffff', overflow: 'hidden',
      }}
    >
      {SPECS.map((spec, i) => (
        <Panel key={i} spec={spec} />
      ))}
    </div>
  );
}
